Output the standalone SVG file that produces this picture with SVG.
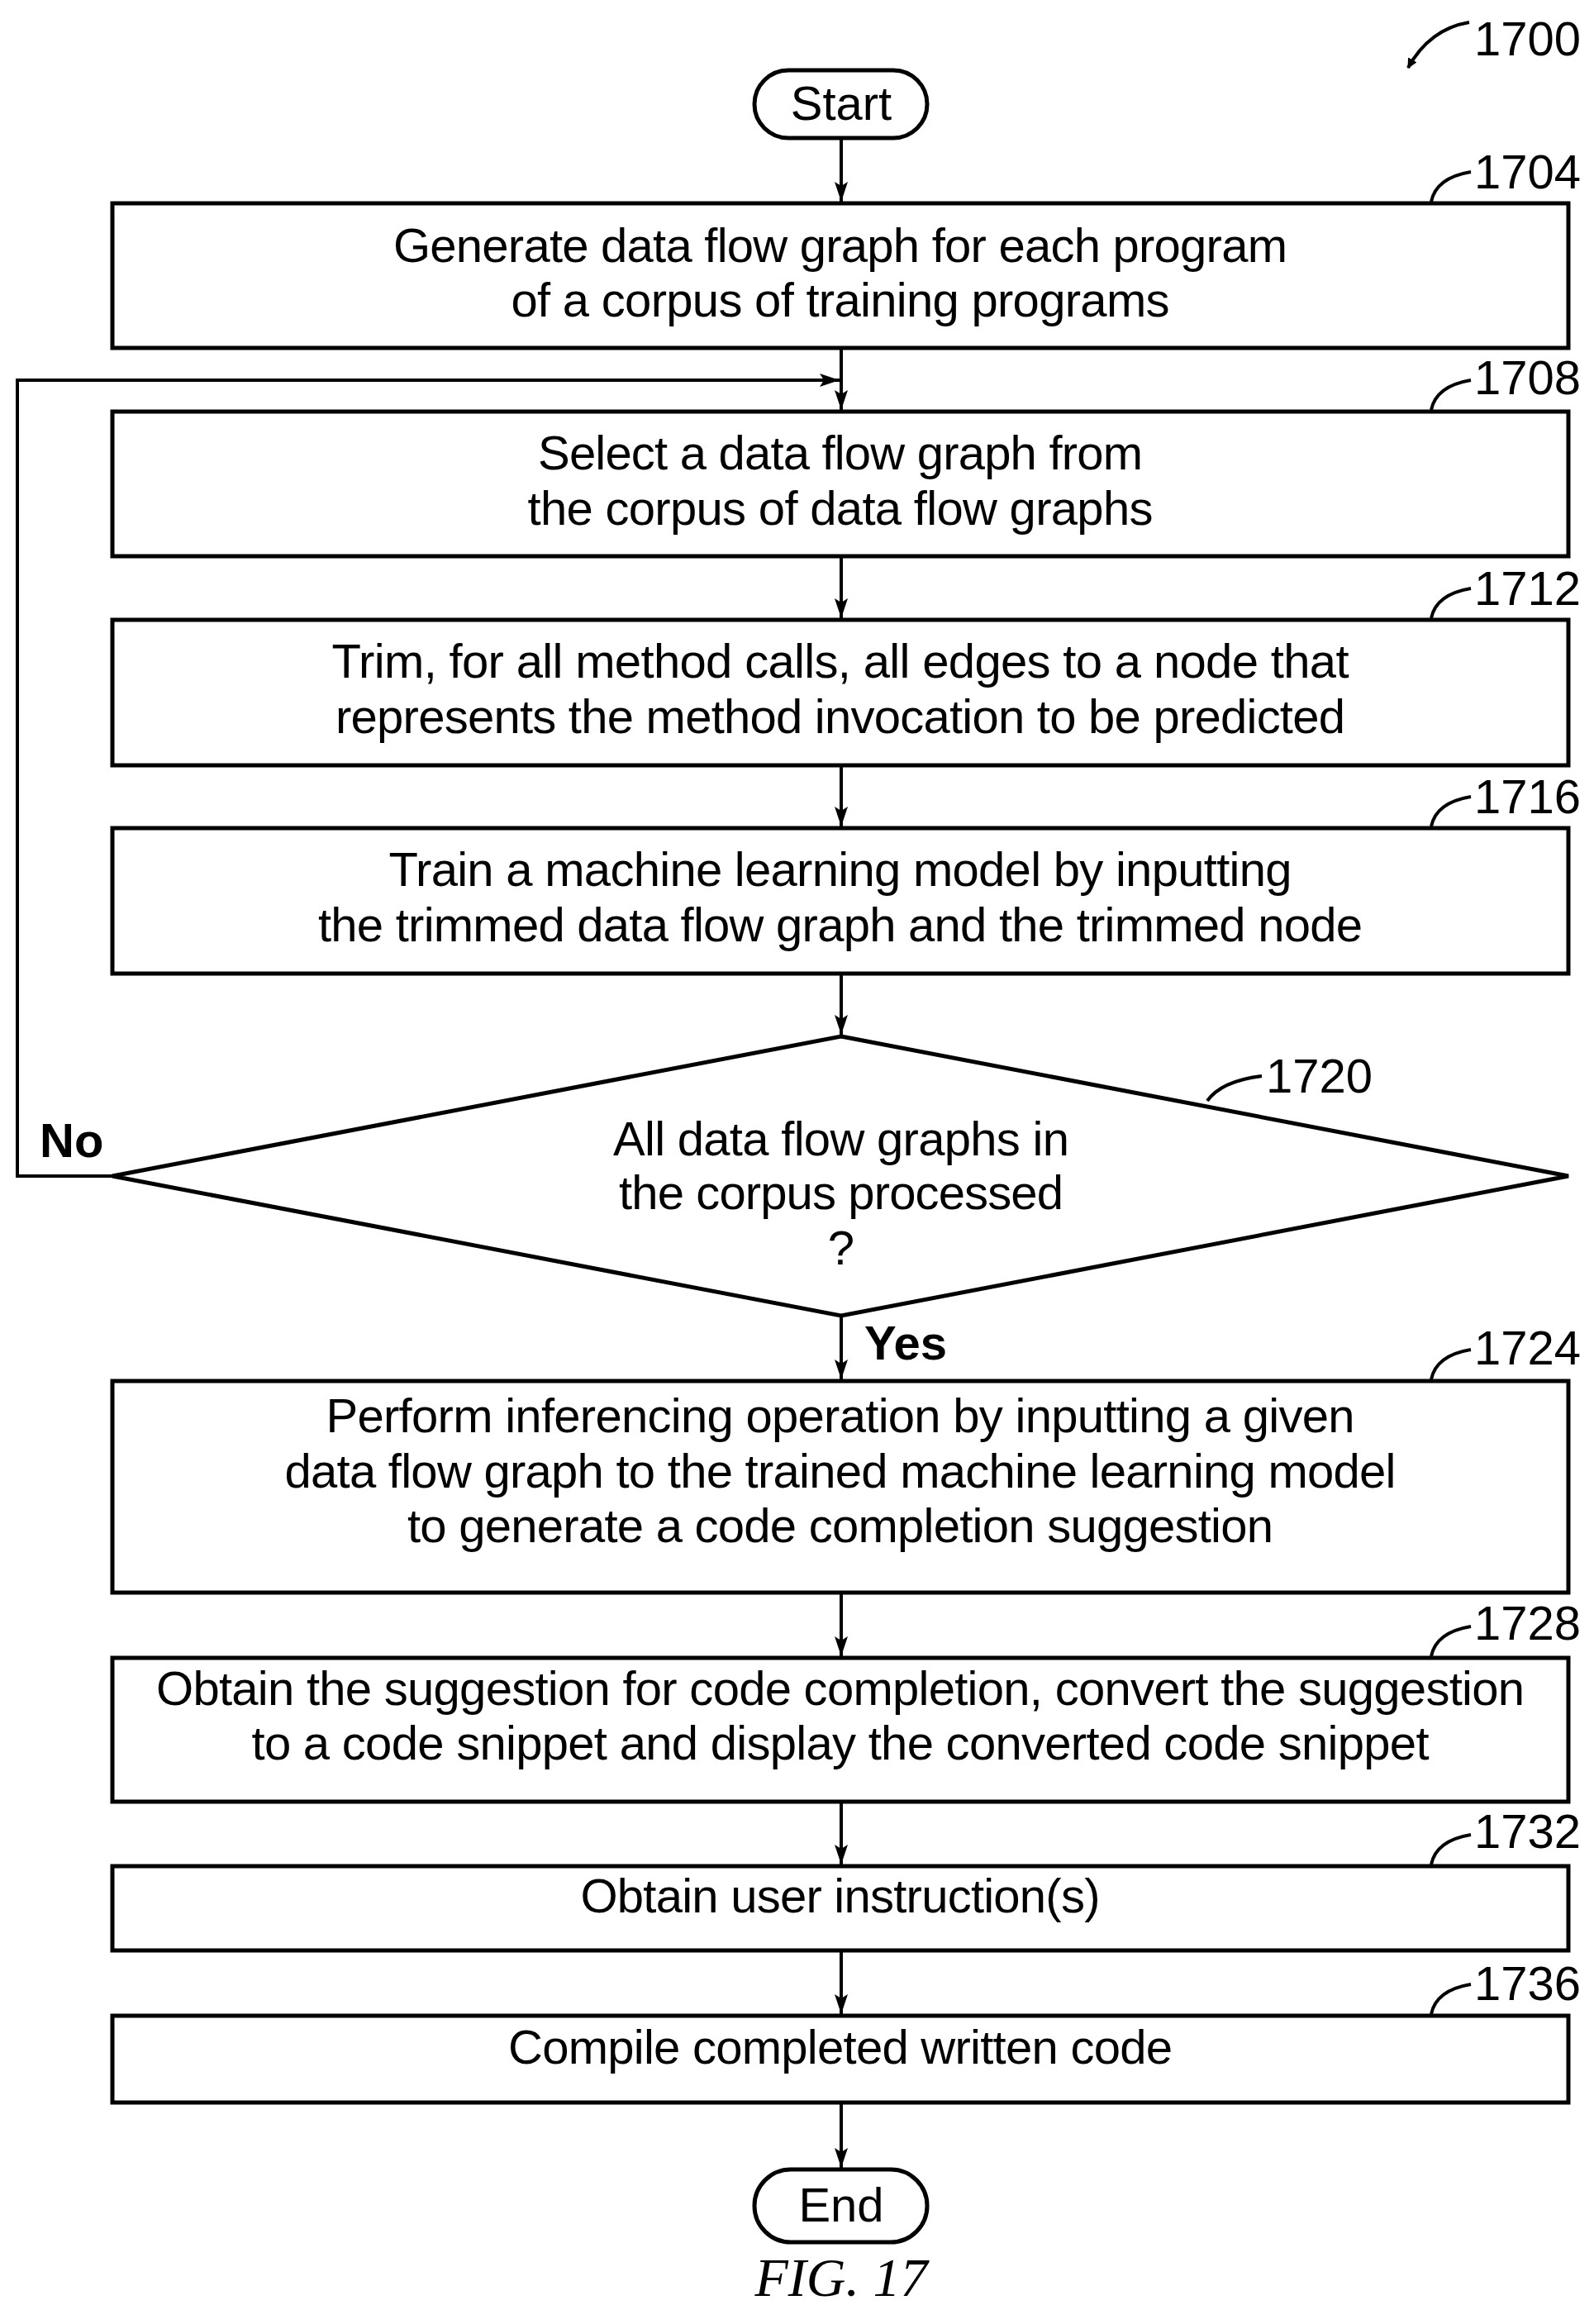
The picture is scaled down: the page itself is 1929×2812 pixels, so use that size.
<svg xmlns="http://www.w3.org/2000/svg" width="1929" height="2812" viewBox="0 0 1929 2812">
<style>
.b{fill:#fff;stroke:#000;stroke-width:5}
.t{font-family:"Liberation Sans",Arial,sans-serif;font-size:58px;text-anchor:middle;fill:#000}
.l{font-family:"Liberation Sans",Arial,sans-serif;font-size:58px;fill:#000}
.c{fill:none;stroke:#000;stroke-width:4}
.bold{font-weight:bold}
</style>
<defs><marker id="a" markerWidth="12" markerHeight="12" refX="11" refY="6" orient="auto" markerUnits="userSpaceOnUse" viewBox="0 0 12 12"><path d="M0,0 L12,6 L0,12 z" fill="#000"/></marker>
<marker id="a2" markerWidth="24" markerHeight="32" refX="24" refY="8" orient="auto" markerUnits="userSpaceOnUse"><path d="M0,0 L24,8 L0,16 L5,8 z" fill="#000"/></marker></defs>
<g id="connectors">
<path class="c" d="M1018,167 V244" marker-end="url(#a2)"/>
<path class="c" d="M1018,421 V496" marker-end="url(#a2)"/>
<path class="c" d="M136,1423 H21 V460 H1016" marker-end="url(#a2)"/>
<path class="c" d="M1018,673 V748" marker-end="url(#a2)"/>
<path class="c" d="M1018,926 V1000" marker-end="url(#a2)"/>
<path class="c" d="M1018,1178 V1252" marker-end="url(#a2)"/>
<path class="c" d="M1018,1592 V1669" marker-end="url(#a2)"/>
<path class="c" d="M1018,1927 V2004" marker-end="url(#a2)"/>
<path class="c" d="M1018,2180 V2256" marker-end="url(#a2)"/>
<path class="c" d="M1018,2360 V2437" marker-end="url(#a2)"/>
<path class="c" d="M1018,2544 V2623" marker-end="url(#a2)"/>
<text class="l bold" x="48" y="1400">No</text>
<text class="l bold" x="1046" y="1645">Yes</text>
</g>
<g id="ref1700"><path class="c" d="M1778,27 Q1730,35 1704,82" marker-end="url(#a)"/><text class="l" x="1784" y="67">1700</text></g>
<g id="start"><rect class="b" x="913" y="85" width="209" height="82" rx="41"/><text class="t" x="1018" y="145">Start</text></g>
<g id="n1704"><rect class="b" x="136" y="246" width="1762" height="175"/><text class="t" x="1017" y="317" textLength="1082">Generate data flow graph for each program</text><text class="t" x="1017" y="383" textLength="797">of a corpus of training programs</text><path class="c" d="M1732,244 Q1738,215 1780,208"/><text class="l" x="1784" y="228">1704</text></g>
<g id="n1708"><rect class="b" x="136" y="498" width="1762" height="175"/><text class="t" x="1017" y="568" textLength="732">Select a data flow graph from</text><text class="t" x="1017" y="635" textLength="757">the corpus of data flow graphs</text><path class="c" d="M1732,496 Q1738,467 1780,460"/><text class="l" x="1784" y="477">1708</text></g>
<g id="n1712"><rect class="b" x="136" y="750" width="1762" height="176"/><text class="t" x="1017" y="820" textLength="1231">Trim, for all method calls, all edges to a node that</text><text class="t" x="1017" y="887" textLength="1222">represents the method invocation to be predicted</text><path class="c" d="M1732,748 Q1738,719 1780,712"/><text class="l" x="1784" y="732">1712</text></g>
<g id="n1716"><rect class="b" x="136" y="1002" width="1762" height="176"/><text class="t" x="1017" y="1072" textLength="1093">Train a machine learning model by inputting</text><text class="t" x="1017" y="1139" textLength="1264">the trimmed data flow graph and the trimmed node</text><path class="c" d="M1732,1000 Q1738,971 1780,964"/><text class="l" x="1784" y="984">1716</text></g>
<g id="n1720"><path class="b" d="M1018,1254 L1898,1423 L1018,1592 L136,1423 Z"/><text class="t" x="1018" y="1398" textLength="552">All data flow graphs in</text><text class="t" x="1018" y="1463" textLength="538">the corpus processed</text><text class="t" x="1018" y="1530">?</text><path class="c" d="M1461,1332 Q1478,1308 1527,1302"/><text class="l" x="1532" y="1322">1720</text></g>
<g id="n1724"><rect class="b" x="136" y="1671" width="1762" height="256"/><text class="t" x="1017" y="1733" textLength="1245">Perform inferencing operation by inputting a given</text><text class="t" x="1017" y="1800" textLength="1345">data flow graph to the trained machine learning model</text><text class="t" x="1017" y="1866" textLength="1048">to generate a code completion suggestion</text><path class="c" d="M1732,1669 Q1738,1640 1780,1633"/><text class="l" x="1784" y="1651">1724</text></g>
<g id="n1728"><rect class="b" x="136" y="2006" width="1762" height="174"/><text class="t" x="1017" y="2063" textLength="1656">Obtain the suggestion for code completion, convert the suggestion</text><text class="t" x="1017" y="2129" textLength="1425">to a code snippet and display the converted code snippet</text><path class="c" d="M1732,2004 Q1738,1975 1780,1968"/><text class="l" x="1784" y="1984">1728</text></g>
<g id="n1732"><rect class="b" x="136" y="2258" width="1762" height="102"/><text class="t" x="1017" y="2314" textLength="629">Obtain user instruction(s)</text><path class="c" d="M1732,2256 Q1738,2227 1780,2220"/><text class="l" x="1784" y="2236">1732</text></g>
<g id="n1736"><rect class="b" x="136" y="2439" width="1762" height="105"/><text class="t" x="1017" y="2497" textLength="804">Compile completed written code</text><path class="c" d="M1732,2437 Q1738,2408 1780,2401"/><text class="l" x="1784" y="2420">1736</text></g>
<g id="end"><rect class="b" x="913" y="2625" width="209" height="88" rx="44"/><text class="t" x="1018" y="2688">End</text></g>
<text x="1018" y="2778" style="font-family:'Liberation Serif',serif;font-style:italic;font-size:66px;text-anchor:middle">FIG. 17</text>
</svg>
